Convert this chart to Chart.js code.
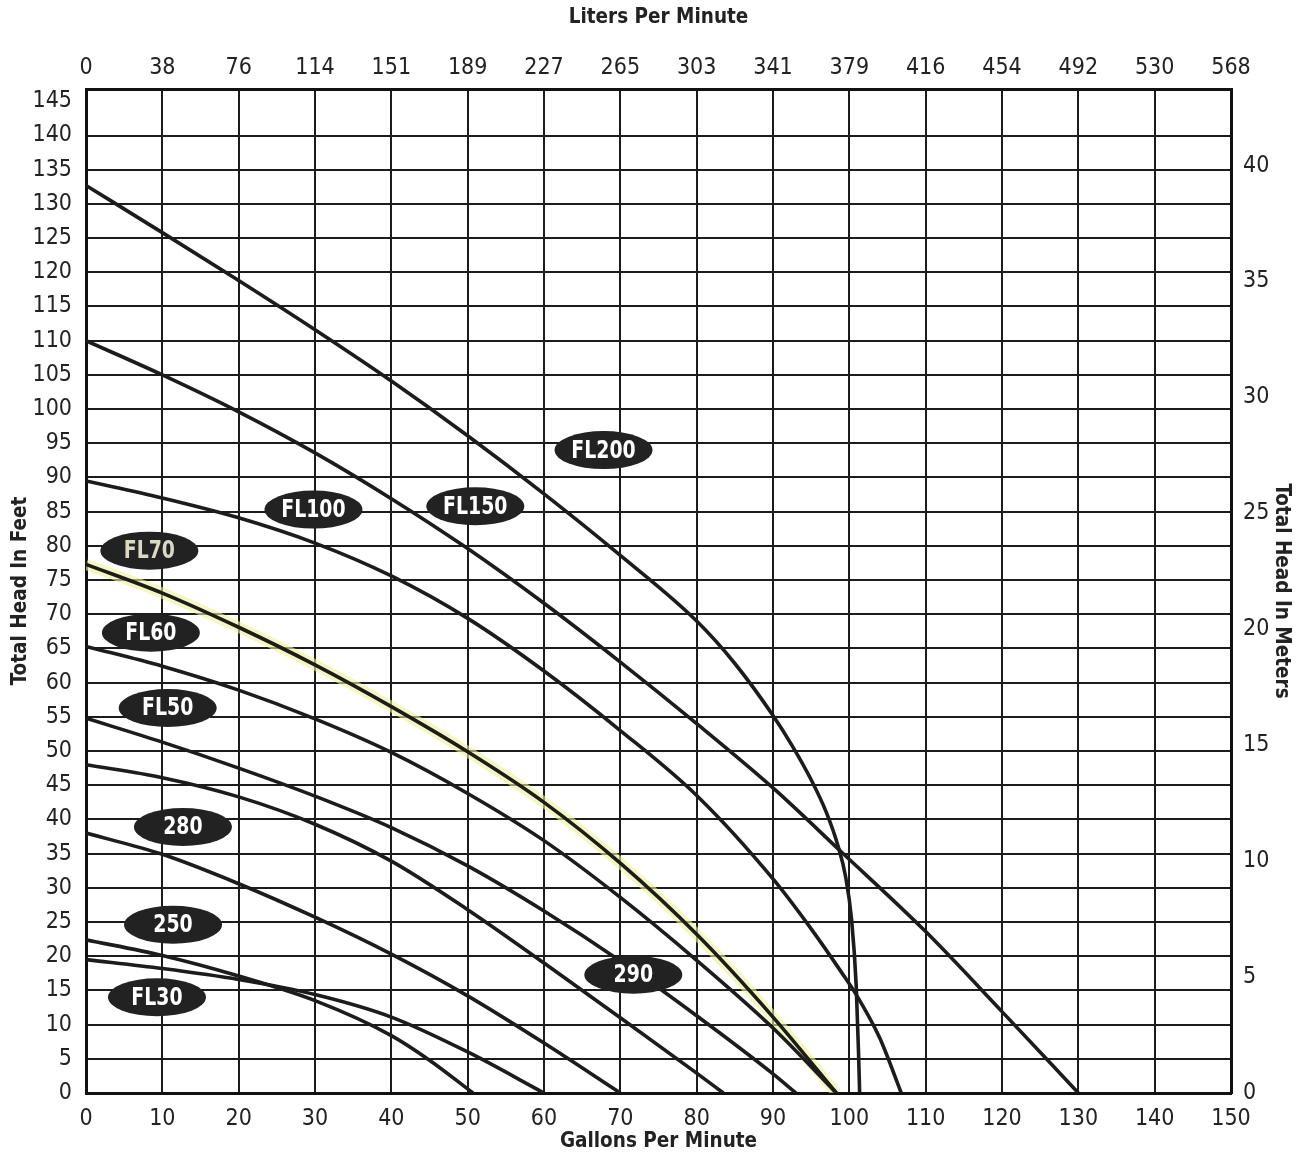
<!DOCTYPE html>
<html>
<head>
<meta charset="utf-8">
<title>Pump Performance Curves</title>
<script src="https://cdn.jsdelivr.net/npm/chart.js@4.4.0/dist/chart.umd.min.js"></script>
<style>
    html, body { margin: 0; padding: 0; background: #fff; }
    #wrap { width: 1307px; height: 1154px; }
</style>
</head>
<body>
<div id="wrap"><canvas id="pumpChart" width="1307" height="1154"></canvas></div>
<script>
// tick labels of the top axis (liters per minute at every 10 gpm)
const litersLabels = ['0', '38', '76', '114', '151', '189', '227', '265', '303', '341', '379', '416', '454', '492', '530', '568'];

// curves: gallons per minute / total head in feet
const fl200Gpm = [0, 10, 20, 30, 40, 50, 60, 70, 80, 85, 90, 92.5, 95, 97, 98.5, 99.5, 100.3, 100.9, 101.2, 101.35];
const fl200Head = [132.7, 125.8, 118.8, 111.6, 104.1, 96.1, 87.6, 78.6, 69.0, 62.8, 55.2, 50.8, 45.8, 41.0, 36.2, 31.7, 25.3, 15.7, 6.1, 0];

const fl150Gpm = [0, 10, 20, 30, 40, 50, 60, 70, 80, 90, 99, 110, 120, 130];
const fl150Head = [110, 105.0, 99.6, 93.6, 86.9, 79.6, 71.6, 63.0, 54.0, 44.6, 35.2, 23.6, 11.9, 0];

const fl100Gpm = [0, 10, 20, 30, 40, 50, 60, 70, 80, 90, 95, 99, 101, 104, 106.8];
const fl100Head = [89.5, 87.0, 84.1, 80.4, 75.6, 69.4, 61.7, 53.0, 43.5, 31.3, 24.0, 17.6, 14.2, 8.0, 0];

const fl70Gpm = [0, 10, 20, 30, 40, 50, 60, 70, 80, 90, 98.3];
const fl70Head = [77.3, 73.1, 68.1, 62.6, 56.5, 49.9, 42.5, 33.6, 23.2, 11.1, 0];

const fl60Gpm = [0, 10, 20, 30, 40, 50, 60, 70, 80, 90, 98.3];
const fl60Head = [65.3, 62.4, 58.9, 54.7, 49.8, 43.8, 36.9, 28.6, 19.4, 9.5, 0];

const fl50Gpm = [0, 10, 20, 30, 40, 50, 60, 70, 80, 90, 93];
const fl50Head = [54.8, 51.3, 47.5, 43.4, 38.8, 33.2, 26.6, 19.3, 11.3, 2.8, 0];

const m290Gpm = [0, 10, 20, 30, 40, 50, 60, 70, 80, 83.5];
const m290Head = [48, 46.1, 43.3, 39.3, 33.9, 26.8, 19.0, 11.0, 2.9, 0];

const m280Gpm = [0, 10, 20, 30, 40, 50, 60, 70];
const m280Head = [38, 34.9, 30.6, 25.7, 20.3, 14.2, 7.3, 0];

const m250Gpm = [0, 10, 20, 30, 40, 45, 50.7];
const m250Head = [22.4, 20.1, 17.1, 13.5, 8.4, 4.8, 0];

const fl30Gpm = [0, 10, 20, 30, 40, 50, 60];
const fl30Head = [19.5, 18.2, 16.6, 14.4, 11.1, 6.0, 0];

// curve name tags (position in gpm / feet)
const labelNames = ['FL200', 'FL150', 'FL100', 'FL70', 'FL60', 'FL50', '280', '250', 'FL30', '290'];
const labelGpm = [67.8, 51, 29.8, 8.3, 8.5, 10.7, 12.7, 11.4, 9.3, 71.7];
const labelHead = [94, 85.8, 85.3, 79.3, 67.3, 56.3, 38.9, 24.6, 14, 17.3];

const FT_PER_M = 3.39;
const FONT = '"Liberation Sans Narrow", "DejaVu Sans Condensed", "Roboto Condensed", "Liberation Sans", sans-serif';
const INK = '#1c1c1c';

function toPoints(gpm, head) {
    return gpm.map((g, i) => ({ x: g, y: head[i] }));
}

function curve(name, gpm, head) {
    return {
        label: name,
        data: toPoints(gpm, head),
        borderColor: INK,
        borderWidth: 3.6,
        pointRadius: 0,
        fill: false,
        cubicInterpolationMode: 'monotone',
        order: 0
    };
}

const datasets = [
    // highlighter mark along FL70 on the scanned sheet
    {
        label: 'FL70 highlight',
        data: toPoints(fl70Gpm, fl70Head),
        borderColor: 'rgba(236, 244, 150, 0.6)',
        borderWidth: 11,
        pointRadius: 0,
        fill: false,
        cubicInterpolationMode: 'monotone',
        order: 1
    },
    curve('FL200', fl200Gpm, fl200Head),
    curve('FL150', fl150Gpm, fl150Head),
    curve('FL100', fl100Gpm, fl100Head),
    curve('FL70', fl70Gpm, fl70Head),
    curve('FL60', fl60Gpm, fl60Head),
    curve('FL50', fl50Gpm, fl50Head),
    curve('290', m290Gpm, m290Head),
    curve('280', m280Gpm, m280Head),
    curve('250', m250Gpm, m250Head),
    curve('FL30', fl30Gpm, fl30Head)
];

const tagPlugin = {
    id: 'curveTags',
    afterDatasetsDraw(chart) {
        const { ctx, scales: { x, y } } = chart;
        ctx.save();
        labelNames.forEach((name, i) => {
            const cx = x.getPixelForValue(labelGpm[i]);
            const cy = y.getPixelForValue(labelHead[i]);
            ctx.beginPath();
            ctx.ellipse(cx, cy, 49, 19, 0, 0, Math.PI * 2);
            ctx.fillStyle = '#222';
            ctx.fill();
            // squeeze the text a little, the sheet uses a condensed face
            ctx.save();
            ctx.translate(cx, cy + 1);
            ctx.scale(0.84, 1);
            ctx.fillStyle = name === 'FL70' ? '#d9d9c4' : '#fff';
            ctx.font = 'bold 25px ' + FONT;
            ctx.textAlign = 'center';
            ctx.textBaseline = 'middle';
            ctx.fillText(name, 0, 0);
            ctx.restore();
        });
        ctx.restore();
    }
};

const tickFont = { family: FONT, size: 23 };
const titleFont = { family: FONT, size: 20.5, weight: 'bold' };
const border = { color: '#111', width: 3 };

new Chart(document.getElementById('pumpChart'), {
    type: 'line',
    data: { datasets },
    options: {
        responsive: false,
        devicePixelRatio: 1,
        animation: false,
        layout: { padding: 0 },
        plugins: {
            legend: { display: false },
            tooltip: { enabled: false }
        },
        scales: {
            x: {
                type: 'linear',
                position: 'bottom',
                min: 0,
                max: 150,
                afterFit: s => { s.height = 61; },
                ticks: { stepSize: 10, autoSkip: false, maxRotation: 0, padding: 12, color: '#222', font: tickFont },
                grid: { color: INK, lineWidth: 2, drawTicks: false },
                border,
                title: { display: true, text: 'Gallons Per Minute', color: '#222', font: titleFont, padding: { top: 0, bottom: 0 } }
            },
            x2: {
                type: 'linear',
                position: 'top',
                min: 0,
                max: 150,
                afterFit: s => { s.height = 89; },
                ticks: {
                    stepSize: 10, autoSkip: false, maxRotation: 0, padding: 7, color: '#222', font: tickFont,
                    callback: v => litersLabels[Math.round(v / 10)]
                },
                grid: { display: false, drawTicks: false },
                border,
                title: { display: true, text: 'Liters Per Minute', color: '#222', font: titleFont, padding: { top: 5, bottom: 0 } }
            },
            y: {
                type: 'linear',
                position: 'left',
                min: 0,
                max: 146.8,
                afterFit: s => { s.width = 86; },
                ticks: { stepSize: 5, includeBounds: false, autoSkip: false, padding: 14, color: '#222', font: tickFont },
                grid: {
                    color: c => (c.tick && c.tick.value === 145 ? 'rgba(0,0,0,0)' : INK),
                    lineWidth: 2,
                    drawTicks: false
                },
                border,
                title: { display: true, text: 'Total Head In Feet', color: '#222', font: titleFont, padding: { top: 8, bottom: 0 } }
            },
            y2: {
                type: 'linear',
                position: 'right',
                min: 0,
                max: 146.8 / FT_PER_M,
                afterFit: s => { s.width = 76; },
                ticks: { stepSize: 5, includeBounds: false, autoSkip: false, padding: 12, color: '#222', font: tickFont },
                grid: { display: false, drawTicks: false },
                border,
                title: { display: true, text: 'Total Head In Meters', color: '#222', font: titleFont, padding: { top: 13, bottom: 0 } }
            }
        }
    },
    plugins: [tagPlugin]
});
</script>
</body>
</html>
